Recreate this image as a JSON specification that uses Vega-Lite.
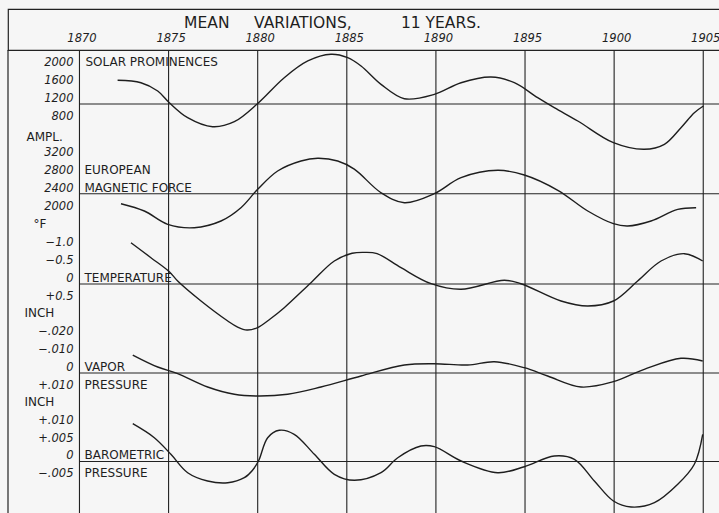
{
 "$schema": "https://vega.github.io/schema/vega-lite/v6.json",
 "background": "#f6f6f6",
 "padding": {"left": 7, "top": 8, "right": 0, "bottom": 0},
 "spacing": 0,
 "bounds": "flush",
 "config": {"view": {"stroke": null}, "font": "DejaVu Sans"},
 "datasets": {
  "years": [{"year":1870},{"year":1875},{"year":1880},{"year":1885},{"year":1890},{"year":1895},{"year":1900},{"year":1905}],
  "solar": [{"year":1872.14,"value":1731},{"year":1873.45,"value":1677},{"year":1874.39,"value":1491},{"year":1875.04,"value":1229},{"year":1876.07,"value":893},{"year":1877.47,"value":691},{"year":1878.69,"value":803},{"year":1880.0,"value":1211},{"year":1881.49,"value":1789},{"year":1882.81,"value":2164},{"year":1884.11,"value":2314},{"year":1885.05,"value":2238},{"year":1885.8,"value":2052},{"year":1886.92,"value":1641},{"year":1888.23,"value":1319},{"year":1889.91,"value":1417},{"year":1891.41,"value":1677},{"year":1893.09,"value":1805},{"year":1894.4,"value":1677},{"year":1895.71,"value":1341},{"year":1896.64,"value":1117},{"year":1897.96,"value":819},{"year":1899.96,"value":333},{"year":1901.69,"value":185},{"year":1902.82,"value":297},{"year":1903.75,"value":669},{"year":1904.5,"value":1005},{"year":1905.01,"value":1155}],
  "magnetic": [{"year":1872.33,"value":2176},{"year":1873.64,"value":2012},{"year":1874.95,"value":1714},{"year":1876.44,"value":1638},{"year":1877.94,"value":1788},{"year":1879.06,"value":2086},{"year":1880.0,"value":2499},{"year":1881.12,"value":2909},{"year":1882.43,"value":3133},{"year":1883.37,"value":3193},{"year":1884.49,"value":3133},{"year":1885.42,"value":2950},{"year":1886.92,"value":2422},{"year":1888.23,"value":2198},{"year":1889.91,"value":2400},{"year":1891.41,"value":2759},{"year":1893.47,"value":2924},{"year":1894.96,"value":2819},{"year":1896.84,"value":2476},{"year":1898.52,"value":2012},{"year":1899.96,"value":1728},{"year":1900.76,"value":1676},{"year":1902.07,"value":1788},{"year":1903.57,"value":2050},{"year":1904.6,"value":2086}],
  "temperature": [{"year":1872.89,"value":-1.157},{"year":1874.01,"value":-0.737},{"year":1875.04,"value":-0.345},{"year":1875.51,"value":-0.084},{"year":1876.82,"value":0.476},{"year":1878.32,"value":1.036},{"year":1878.85,"value":1.2},{"year":1879.4,"value":1.29},{"year":1880.0,"value":1.22},{"year":1880.7,"value":0.98},{"year":1881.49,"value":0.664},{"year":1882.99,"value":-0.036},{"year":1884.3,"value":-0.644},{"year":1885.3,"value":-0.86},{"year":1886.0,"value":-0.885},{"year":1886.7,"value":-0.85},{"year":1888.04,"value":-0.457},{"year":1889.73,"value":-0.008},{"year":1891.41,"value":0.148},{"year":1893.84,"value":-0.104},{"year":1894.77,"value":-0.008},{"year":1897.02,"value":0.476},{"year":1898.52,"value":0.616},{"year":1899.96,"value":0.476},{"year":1901.32,"value":-0.084},{"year":1902.63,"value":-0.644},{"year":1903.94,"value":-0.849},{"year":1904.97,"value":-0.644}],
  "vapor": [{"year":1872.99,"value":-0.01008},{"year":1874.39,"value":-0.00336},{"year":1875.51,"value":0.00039},{"year":1877.19,"value":0.00784},{"year":1878.69,"value":0.01193},{"year":1880.0,"value":0.01289},{"year":1881.68,"value":0.01193},{"year":1883.55,"value":0.00784},{"year":1885.8,"value":0.00168},{"year":1888.23,"value":-0.00448},{"year":1889.91,"value":-0.00521},{"year":1891.78,"value":-0.00448},{"year":1893.28,"value":-0.00633},{"year":1894.96,"value":-0.00297},{"year":1896.27,"value":0.00168},{"year":1898.14,"value":0.00784},{"year":1899.96,"value":0.00487},{"year":1901.69,"value":-0.00207},{"year":1903.75,"value":-0.00824},{"year":1904.97,"value":-0.00672}],
  "barometric": [{"year":1872.99,"value":0.01059},{"year":1874.2,"value":0.00667},{"year":1875.13,"value":0.00202},{"year":1876.07,"value":-0.00314},{"year":1877.19,"value":-0.00546},{"year":1878.32,"value":-0.00594},{"year":1879.25,"value":-0.00454},{"year":1879.7,"value":-0.0025},{"year":1880.05,"value":0.0002},{"year":1880.56,"value":0.00667},{"year":1881.21,"value":0.00874},{"year":1882.05,"value":0.00762},{"year":1883.18,"value":0.00202},{"year":1884.3,"value":-0.00359},{"year":1885.42,"value":-0.00527},{"year":1886.92,"value":-0.00314},{"year":1887.86,"value":0.00106},{"year":1889.16,"value":0.00434},{"year":1889.91,"value":0.00415},{"year":1891.41,"value":0.00014},{"year":1893.47,"value":-0.00314},{"year":1894.96,"value":-0.00146},{"year":1896.64,"value":0.00154},{"year":1897.77,"value":0.00062},{"year":1898.89,"value":-0.00546},{"year":1899.96,"value":-0.01106},{"year":1900.95,"value":-0.01275},{"year":1902.26,"value":-0.01154},{"year":1903.57,"value":-0.00639},{"year":1904.5,"value":-0.00078},{"year":1904.97,"value":0.00762}],
  "labels": [
   {"panel":"solar","kind":"tick","value":2000,"text":"2000","name":"SOLAR PROMINENCES"},
   {"panel":"solar","kind":"tick","value":1600,"text":"1600"},
   {"panel":"solar","kind":"tick","value":1200,"text":"1200"},
   {"panel":"solar","kind":"tick","value":800,"text":"800"},
   {"panel":"magnetic","kind":"unit","value":3600,"text":"AMPL."},
   {"panel":"magnetic","kind":"tick","value":3200,"text":"3200"},
   {"panel":"magnetic","kind":"tick","value":2800,"text":"2800","name":"EUROPEAN"},
   {"panel":"magnetic","kind":"tick","value":2400,"text":"2400","name":"MAGNETIC FORCE"},
   {"panel":"magnetic","kind":"tick","value":2000,"text":"2000"},
   {"panel":"temperature","kind":"unit","value":-1.5,"text":"°F"},
   {"panel":"temperature","kind":"tick","value":-1.0,"text":"−1.0"},
   {"panel":"temperature","kind":"tick","value":-0.5,"text":"−0.5"},
   {"panel":"temperature","kind":"tick","value":0,"text":"0","name":"TEMPERATURE"},
   {"panel":"temperature","kind":"tick","value":0.5,"text":"+0.5"},
   {"panel":"vapor","kind":"unit","value":-0.03,"text":"INCH"},
   {"panel":"vapor","kind":"tick","value":-0.02,"text":"−.020"},
   {"panel":"vapor","kind":"tick","value":-0.01,"text":"−.010"},
   {"panel":"vapor","kind":"tick","value":0,"text":"0","name":"VAPOR"},
   {"panel":"vapor","kind":"tick","value":0.01,"text":"+.010","name":"PRESSURE"},
   {"panel":"barometric","kind":"unit","value":0.015,"text":"INCH"},
   {"panel":"barometric","kind":"tick","value":0.01,"text":"+.010"},
   {"panel":"barometric","kind":"tick","value":0.005,"text":"+.005"},
   {"panel":"barometric","kind":"tick","value":0,"text":"0","name":"BAROMETRIC"},
   {"panel":"barometric","kind":"tick","value":-0.005,"text":"−.005","name":"PRESSURE"}
  ]
 },
 "vconcat": [
  {
   "width": 712, "height": 41,
   "view": {"stroke": "#222222", "strokeWidth": 1.2},
   "layer": [
    {"data": {"values": [{"title": "MEAN\u00a0\u00a0\u00a0\u00a0\u00a0VARIATIONS,\u00a0\u00a0\u00a0\u00a0\u00a0\u00a0\u00a0\u00a0\u00a0\u00a011 YEARS."}]},
     "mark": {"type": "text", "fontSize": 15.5, "color": "#1e1e1e", "dy": -6.5, "align": "center", "baseline": "middle"},
     "encoding": {"x": {"datum": 1884.2, "type": "quantitative", "scale": {"domain": [1865.99, 1905.94], "nice": false, "zero": false}, "axis": null}, "text": {"field": "title"}}},
    {"data": {"name": "years"},
     "mark": {"type": "text", "fontSize": 11.5, "fontStyle": "italic", "color": "#1e1e1e", "dx": 2.5, "dy": 9, "align": "center", "baseline": "middle"},
     "encoding": {"x": {"field": "year", "type": "quantitative", "scale": {"domain": [1865.99, 1905.94], "nice": false, "zero": false}, "axis": null}, "text": {"field": "year", "type": "quantitative", "format": "d"}}}
   ]
  },
  {
   "width": 712, "height": 464,
   "resolve": {"scale": {"y": "independent"}},
   "layer": [
    {"data": {"name": "years"}, "mark": {"type": "rule", "color": "#222222", "strokeWidth": 1.1},
     "encoding": {"x": {"field": "year", "type": "quantitative", "scale": {"domain": [1865.99, 1905.94], "nice": false, "zero": false}, "axis": null}}},
    {"data": {"values": [{}]}, "mark": {"type": "rule", "color": "#222222", "strokeWidth": 1.2},
     "encoding": {"x": {"datum": 1865.99, "type": "quantitative", "scale": {"domain": [1865.99, 1905.94], "nice": false, "zero": false}, "axis": null}}},
    {"layer": [
     {"data": {"values": [{}]}, "mark": {"type": "rule", "color": "#222222", "strokeWidth": 1.1},
      "encoding": {"x": {"datum": 1870, "type": "quantitative", "scale": {"domain": [1865.99, 1905.94], "nice": false, "zero": false}, "axis": null}, "x2": {"datum": 1905.94}, "y": {"datum": 1200, "type": "quantitative", "scale": {"domain": [-7987.7, 2410.1], "nice": false, "zero": false}, "axis": null}}},
     {"data": {"name": "solar"}, "mark": {"type": "line", "interpolate": "catmull-rom", "color": "#1e1e1e", "strokeWidth": 1.4},
      "encoding": {"x": {"field": "year", "type": "quantitative", "scale": {"domain": [1865.99, 1905.94], "nice": false, "zero": false}, "axis": null}, "y": {"field": "value", "type": "quantitative", "scale": {"domain": [-7987.7, 2410.1], "nice": false, "zero": false}, "axis": null}}},
     {"data": {"name": "labels"}, "transform": [{"filter": "datum.panel === 'solar' && datum.kind === 'tick'"}],
      "mark": {"type": "text", "align": "right", "baseline": "alphabetic", "dx": -6, "dy": -2, "fontSize": 11.5, "fontStyle": "italic", "color": "#1e1e1e"},
      "encoding": {"x": {"datum": 1870, "type": "quantitative", "scale": {"domain": [1865.99, 1905.94], "nice": false, "zero": false}, "axis": null}, "y": {"field": "value", "type": "quantitative", "scale": {"domain": [-7987.7, 2410.1], "nice": false, "zero": false}, "axis": null}, "text": {"field": "text"}}},
     {"data": {"name": "labels"}, "transform": [{"filter": "datum.panel === 'solar' && isValid(datum.name)"}],
      "mark": {"type": "text", "align": "left", "baseline": "alphabetic", "dx": 6, "dy": -2, "fontSize": 12, "color": "#1e1e1e"},
      "encoding": {"x": {"datum": 1870, "type": "quantitative", "scale": {"domain": [1865.99, 1905.94], "nice": false, "zero": false}, "axis": null}, "y": {"field": "value", "type": "quantitative", "scale": {"domain": [-7987.7, 2410.1], "nice": false, "zero": false}, "axis": null}, "text": {"field": "name"}}}
    ]},
    {"layer": [
     {"data": {"values": [{}]}, "mark": {"type": "rule", "color": "#222222", "strokeWidth": 1.1},
      "encoding": {"x": {"datum": 1870, "type": "quantitative", "scale": {"domain": [1865.99, 1905.94], "nice": false, "zero": false}, "axis": null}, "x2": {"datum": 1905.94}, "y": {"datum": 2400, "type": "quantitative", "scale": {"domain": [-4777.6, 5620.2], "nice": false, "zero": false}, "axis": null}}},
     {"data": {"name": "magnetic"}, "mark": {"type": "line", "interpolate": "catmull-rom", "color": "#1e1e1e", "strokeWidth": 1.4},
      "encoding": {"x": {"field": "year", "type": "quantitative", "scale": {"domain": [1865.99, 1905.94], "nice": false, "zero": false}, "axis": null}, "y": {"field": "value", "type": "quantitative", "scale": {"domain": [-4777.6, 5620.2], "nice": false, "zero": false}, "axis": null}}},
     {"data": {"name": "labels"}, "transform": [{"filter": "datum.panel === 'magnetic' && datum.kind === 'tick'"}],
      "mark": {"type": "text", "align": "right", "baseline": "alphabetic", "dx": -6, "dy": -2, "fontSize": 11.5, "fontStyle": "italic", "color": "#1e1e1e"},
      "encoding": {"x": {"datum": 1870, "type": "quantitative", "scale": {"domain": [1865.99, 1905.94], "nice": false, "zero": false}, "axis": null}, "y": {"field": "value", "type": "quantitative", "scale": {"domain": [-4777.6, 5620.2], "nice": false, "zero": false}, "axis": null}, "text": {"field": "text"}}},
     {"data": {"name": "labels"}, "transform": [{"filter": "datum.panel === 'magnetic' && datum.kind === 'unit'"}],
      "mark": {"type": "text", "align": "left", "baseline": "alphabetic", "dx": -53, "dy": 1, "fontSize": 12, "color": "#1e1e1e"},
      "encoding": {"x": {"datum": 1870, "type": "quantitative", "scale": {"domain": [1865.99, 1905.94], "nice": false, "zero": false}, "axis": null}, "y": {"field": "value", "type": "quantitative", "scale": {"domain": [-4777.6, 5620.2], "nice": false, "zero": false}, "axis": null}, "text": {"field": "text"}}},
     {"data": {"name": "labels"}, "transform": [{"filter": "datum.panel === 'magnetic' && isValid(datum.name)"}],
      "mark": {"type": "text", "align": "left", "baseline": "alphabetic", "dx": 5, "dy": -2, "fontSize": 12, "color": "#1e1e1e"},
      "encoding": {"x": {"datum": 1870, "type": "quantitative", "scale": {"domain": [1865.99, 1905.94], "nice": false, "zero": false}, "axis": null}, "y": {"field": "value", "type": "quantitative", "scale": {"domain": [-4777.6, 5620.2], "nice": false, "zero": false}, "axis": null}, "text": {"field": "name"}}}
    ]},
    {"layer": [
     {"data": {"values": [{}]}, "mark": {"type": "rule", "color": "#222222", "strokeWidth": 1.1},
      "encoding": {"x": {"datum": 1870, "type": "quantitative", "scale": {"domain": [1865.99, 1905.94], "nice": false, "zero": false}, "axis": null}, "x2": {"datum": 1905.94}, "y": {"datum": 0, "type": "quantitative", "scale": {"domain": [-6.5546, 6.4426], "nice": false, "zero": false, "reverse": true}, "axis": null}}},
     {"data": {"name": "temperature"}, "mark": {"type": "line", "interpolate": "catmull-rom", "color": "#1e1e1e", "strokeWidth": 1.4},
      "encoding": {"x": {"field": "year", "type": "quantitative", "scale": {"domain": [1865.99, 1905.94], "nice": false, "zero": false}, "axis": null}, "y": {"field": "value", "type": "quantitative", "scale": {"domain": [-6.5546, 6.4426], "nice": false, "zero": false, "reverse": true}, "axis": null}}},
     {"data": {"name": "labels"}, "transform": [{"filter": "datum.panel === 'temperature' && datum.kind === 'tick'"}],
      "mark": {"type": "text", "align": "right", "baseline": "alphabetic", "dx": -6, "dy": -2, "fontSize": 11.5, "fontStyle": "italic", "color": "#1e1e1e"},
      "encoding": {"x": {"datum": 1870, "type": "quantitative", "scale": {"domain": [1865.99, 1905.94], "nice": false, "zero": false}, "axis": null}, "y": {"field": "value", "type": "quantitative", "scale": {"domain": [-6.5546, 6.4426], "nice": false, "zero": false, "reverse": true}, "axis": null}, "text": {"field": "text"}}},
     {"data": {"name": "labels"}, "transform": [{"filter": "datum.panel === 'temperature' && datum.kind === 'unit'"}],
      "mark": {"type": "text", "align": "left", "baseline": "alphabetic", "dx": -46, "dy": -2, "fontSize": 12, "color": "#1e1e1e"},
      "encoding": {"x": {"datum": 1870, "type": "quantitative", "scale": {"domain": [1865.99, 1905.94], "nice": false, "zero": false}, "axis": null}, "y": {"field": "value", "type": "quantitative", "scale": {"domain": [-6.5546, 6.4426], "nice": false, "zero": false, "reverse": true}, "axis": null}, "text": {"field": "text"}}},
     {"data": {"name": "labels"}, "transform": [{"filter": "datum.panel === 'temperature' && isValid(datum.name)"}],
      "mark": {"type": "text", "align": "left", "baseline": "alphabetic", "dx": 5, "dy": -2, "fontSize": 12, "color": "#1e1e1e"},
      "encoding": {"x": {"datum": 1870, "type": "quantitative", "scale": {"domain": [1865.99, 1905.94], "nice": false, "zero": false}, "axis": null}, "y": {"field": "value", "type": "quantitative", "scale": {"domain": [-6.5546, 6.4426], "nice": false, "zero": false, "reverse": true}, "axis": null}, "text": {"field": "name"}}}
    ]},
    {"layer": [
     {"data": {"values": [{}]}, "mark": {"type": "rule", "color": "#222222", "strokeWidth": 1.1},
      "encoding": {"x": {"datum": 1870, "type": "quantitative", "scale": {"domain": [1865.99, 1905.94], "nice": false, "zero": false}, "axis": null}, "x2": {"datum": 1905.94}, "y": {"datum": 0, "type": "quantitative", "scale": {"domain": [-0.18095, 0.078992], "nice": false, "zero": false, "reverse": true}, "axis": null}}},
     {"data": {"name": "vapor"}, "mark": {"type": "line", "interpolate": "catmull-rom", "color": "#1e1e1e", "strokeWidth": 1.4},
      "encoding": {"x": {"field": "year", "type": "quantitative", "scale": {"domain": [1865.99, 1905.94], "nice": false, "zero": false}, "axis": null}, "y": {"field": "value", "type": "quantitative", "scale": {"domain": [-0.18095, 0.078992], "nice": false, "zero": false, "reverse": true}, "axis": null}}},
     {"data": {"name": "labels"}, "transform": [{"filter": "datum.panel === 'vapor' && datum.kind === 'tick'"}],
      "mark": {"type": "text", "align": "right", "baseline": "alphabetic", "dx": -6, "dy": -2, "fontSize": 11.5, "fontStyle": "italic", "color": "#1e1e1e"},
      "encoding": {"x": {"datum": 1870, "type": "quantitative", "scale": {"domain": [1865.99, 1905.94], "nice": false, "zero": false}, "axis": null}, "y": {"field": "value", "type": "quantitative", "scale": {"domain": [-0.18095, 0.078992], "nice": false, "zero": false, "reverse": true}, "axis": null}, "text": {"field": "text"}}},
     {"data": {"name": "labels"}, "transform": [{"filter": "datum.panel === 'vapor' && datum.kind === 'unit'"}],
      "mark": {"type": "text", "align": "left", "baseline": "alphabetic", "dx": -55, "dy": -2, "fontSize": 12, "color": "#1e1e1e"},
      "encoding": {"x": {"datum": 1870, "type": "quantitative", "scale": {"domain": [1865.99, 1905.94], "nice": false, "zero": false}, "axis": null}, "y": {"field": "value", "type": "quantitative", "scale": {"domain": [-0.18095, 0.078992], "nice": false, "zero": false, "reverse": true}, "axis": null}, "text": {"field": "text"}}},
     {"data": {"name": "labels"}, "transform": [{"filter": "datum.panel === 'vapor' && isValid(datum.name)"}],
      "mark": {"type": "text", "align": "left", "baseline": "alphabetic", "dx": 5, "dy": -2, "fontSize": 12, "color": "#1e1e1e"},
      "encoding": {"x": {"datum": 1870, "type": "quantitative", "scale": {"domain": [1865.99, 1905.94], "nice": false, "zero": false}, "axis": null}, "y": {"field": "value", "type": "quantitative", "scale": {"domain": [-0.18095, 0.078992], "nice": false, "zero": false, "reverse": true}, "axis": null}, "text": {"field": "name"}}}
    ]},
    {"layer": [
     {"data": {"values": [{}]}, "mark": {"type": "rule", "color": "#222222", "strokeWidth": 1.1},
      "encoding": {"x": {"datum": 1870, "type": "quantitative", "scale": {"domain": [1865.99, 1905.94], "nice": false, "zero": false}, "axis": null}, "x2": {"datum": 1905.94}, "y": {"datum": 0, "type": "quantitative", "scale": {"domain": [-0.014706, 0.115266], "nice": false, "zero": false}, "axis": null}}},
     {"data": {"name": "barometric"}, "mark": {"type": "line", "interpolate": "catmull-rom", "color": "#1e1e1e", "strokeWidth": 1.4},
      "encoding": {"x": {"field": "year", "type": "quantitative", "scale": {"domain": [1865.99, 1905.94], "nice": false, "zero": false}, "axis": null}, "y": {"field": "value", "type": "quantitative", "scale": {"domain": [-0.014706, 0.115266], "nice": false, "zero": false}, "axis": null}}},
     {"data": {"name": "labels"}, "transform": [{"filter": "datum.panel === 'barometric' && datum.kind === 'tick'"}],
      "mark": {"type": "text", "align": "right", "baseline": "alphabetic", "dx": -6, "dy": -2, "fontSize": 11.5, "fontStyle": "italic", "color": "#1e1e1e"},
      "encoding": {"x": {"datum": 1870, "type": "quantitative", "scale": {"domain": [1865.99, 1905.94], "nice": false, "zero": false}, "axis": null}, "y": {"field": "value", "type": "quantitative", "scale": {"domain": [-0.014706, 0.115266], "nice": false, "zero": false}, "axis": null}, "text": {"field": "text"}}},
     {"data": {"name": "labels"}, "transform": [{"filter": "datum.panel === 'barometric' && datum.kind === 'unit'"}],
      "mark": {"type": "text", "align": "left", "baseline": "alphabetic", "dx": -55, "dy": -2, "fontSize": 12, "color": "#1e1e1e"},
      "encoding": {"x": {"datum": 1870, "type": "quantitative", "scale": {"domain": [1865.99, 1905.94], "nice": false, "zero": false}, "axis": null}, "y": {"field": "value", "type": "quantitative", "scale": {"domain": [-0.014706, 0.115266], "nice": false, "zero": false}, "axis": null}, "text": {"field": "text"}}},
     {"data": {"name": "labels"}, "transform": [{"filter": "datum.panel === 'barometric' && isValid(datum.name)"}],
      "mark": {"type": "text", "align": "left", "baseline": "alphabetic", "dx": 5, "dy": -2, "fontSize": 12, "color": "#1e1e1e"},
      "encoding": {"x": {"datum": 1870, "type": "quantitative", "scale": {"domain": [1865.99, 1905.94], "nice": false, "zero": false}, "axis": null}, "y": {"field": "value", "type": "quantitative", "scale": {"domain": [-0.014706, 0.115266], "nice": false, "zero": false}, "axis": null}, "text": {"field": "name"}}}
    ]}
   ]
  }
 ]
}
